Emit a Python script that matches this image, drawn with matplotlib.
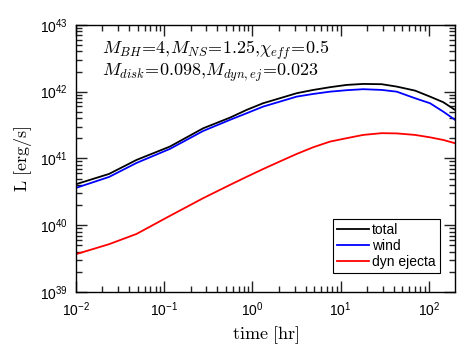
import matplotlib
matplotlib.use('Agg')
import numpy as np
import matplotlib.pyplot as plt
from matplotlib.ticker import LogLocator, NullFormatter

plt.rcParams['font.family'] = ['Liberation Sans', 'DejaVu Sans']
plt.rcParams['mathtext.fontset'] = 'cm'

# time [hr]
time_hr = [0.01, 0.0238, 0.0488, 0.116, 0.277, 0.556, 0.859, 1.32, 2.05,
           3.17, 4.89, 7.55, 11.67, 18.0, 29.1, 43.1, 69.3, 102.6, 145, 197]

# luminosity [erg/s]
L_total = [4.10e40, 5.86e40, 9.51e40, 1.503e41, 2.83e41, 4.08e41, 5.33e41,
           6.71e41, 7.98e41, 9.48e41, 1.062e42, 1.167e42, 1.262e42,
           1.306e42, 1.294e42, 1.191e42, 1.038e42, 8.43e41, 6.95e41, 5.33e41]
L_wind = [3.61e40, 5.28e40, 8.57e40, 1.387e41, 2.58e41, 3.78e41, 4.75e41,
          5.97e41, 7.10e41, 8.43e41, 9.25e41, 1.00e42, 1.052e42,
          1.089e42, 1.062e42, 1.00e42, 7.98e41, 6.71e41, 5.02e41, 3.78e41]
L_dyn = [3.67e39, 5.19e39, 7.40e39, 1.377e40, 2.54e40, 4.01e40, 5.30e40,
         6.93e40, 9.02e40, 1.167e41, 1.472e41, 1.786e41, 2.01e41,
         2.25e41, 2.39e41, 2.37e41, 2.25e41, 2.07e41, 1.89e41, 1.69e41]

labels = ['total', 'wind', 'dyn ejecta']
colors = ['k', '#0000ff', '#ff0000']

fig = plt.figure(figsize=(4.74, 3.56), dpi=100)
ax = fig.add_axes([0.160, 0.180, 0.800, 0.750])

for L, label, color in zip([L_total, L_wind, L_dyn], labels, colors):
    ax.plot(time_hr, L, color=color, lw=1.3, label=label)

ax.set_xscale('log')
ax.set_yscale('log')
ax.set_xlim(1e-2, 197)
ax.set_ylim(1e39, 1e43)
for axis in (ax.xaxis, ax.yaxis):
    axis.set_major_locator(LogLocator(base=10.0, numticks=100))
    axis.set_minor_locator(LogLocator(base=10.0, subs=np.arange(2, 10) * 1.0,
                                      numticks=100))
    axis.set_minor_formatter(NullFormatter())

ax.tick_params(which='both', direction='in', top=True, right=True,
               bottom=True, left=True, labelsize=10, width=1.0,
               color='#222222')
ax.tick_params(which='major', length=8, pad=6)
ax.tick_params(which='minor', length=4.5)
for spine in ax.spines.values():
    spine.set_linewidth(1.0)

ax.set_xlabel(r'$\mathrm{time\ [hr]}$', fontsize=13, labelpad=4)
ax.set_ylabel(r'$\mathrm{L\ [erg/s]}$', fontsize=13, labelpad=4)

ax.text(0.07, 0.905, r'$M_{BH}\!=\!4,\!M_{NS}\!=\!1.25,\!\chi_{eff}\!=\!0.5$',
        transform=ax.transAxes, fontsize=13, va='center', ha='left')
ax.text(0.07, 0.822, r'$M_{disk}\!=\!0.098,\!M_{dyn,ej}\!=\!0.023$',
        transform=ax.transAxes, fontsize=13, va='center', ha='left')

leg = ax.legend(loc='lower right', fontsize=10, frameon=True, fancybox=False,
                edgecolor='k', framealpha=1, borderpad=0.3, labelspacing=0.15,
                handlelength=2.3, handletextpad=0.2, borderaxespad=0.0,
                bbox_to_anchor=(0.96, 0.07))
leg.get_frame().set_linewidth(0.8)

fig.savefig('out.png', dpi=100)
